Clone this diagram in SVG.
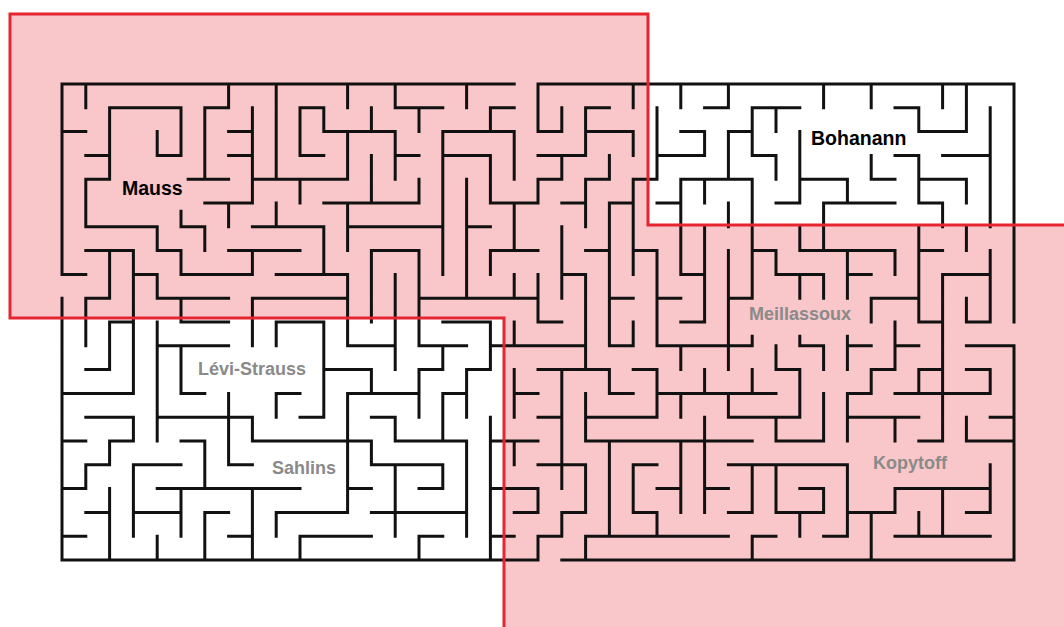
<svg xmlns="http://www.w3.org/2000/svg" width="1064" height="627" viewBox="0 0 1064 627">
<style>
.wall{fill:none;stroke:#111;stroke-width:0.126;stroke-linecap:square}
.lbl{font-family:"Liberation Sans",Arial,sans-serif;font-weight:bold}
.blk{fill:#000;font-size:19.5px}
.gry{fill:#8a8a8a;font-size:18px}
</style>
<rect width="1064" height="627" fill="#fff"/>
<path id="zone-fill" d="M10 14H648V225H1066V629H504V318H10Z" fill="#f9c6c9"/>
<g id="maze" transform="translate(62,84) scale(23.8)">
<path class="wall" d="M0 0H19M20 0H40M0 20H20M21 20H40M0 0V8M0 9V20M40 0V10M40 11V20
M2 1H5M6 1H7M10 1H11M14 1H16M18 1H19M22 1H23M27 1H28M29 1H31M35 1H36
M0 2H1M7 2H8M11 2H14M16 2H19M20 2H21M22 2H24M26 2H27M28 2H29M36 2H38
M1 3H2M4 3H5M7 3H8M10 3H11M14 3H15M16 3H18M20 3H22M25 3H27M29 3H30M35 3H36M37 3H39
M1 4H2M5.3 4H7M8 4H12M20 4H21M22 4H23M24 4H25M26 4H29M31 4H33M34 4H35M36 4H38
M6 5H8M11 5H15M18 5H20M21 5H22M23 5H24M25 5H26M30 5H31M32 5H35M36 5H37
M1 6H4M5 6H6M8 6H11M12 6H16M17 6H18
M1 7H3M4 7H5M7 7H10M13 7H15M18 7H20M22 7H23M24 7H25M29 7H30M31 7H35M36 7H37
M0 8H1M3 8H4M5 8H8M9 8H12M21 8H22M26 8H27M30 8H32M33 8H34M37 8H39
M1 9H2M4 9H7M8 9H12M15 9H20M23 9H24M25 9H26M28 9H29M34 9H36
M2 10H3M5 10H7M9 10H11M16 10H18M20 10H21M26 10H27M36 10H37M38 10H39
M4 11H7M12 11H14M15 11H17M18 11H22M23 11H24M25 11H29M31 11H32M33 11H34M35 11H36M38 11H40
M1 12H2M11 12H13M15 12H16M17 12H18M20 12H23M24 12H25M30 12H31M34 12H35M36 12H37M38 12H39
M0 13H3M5 13H6M9 13H10M12 13H15M16 13H17M19 13H20M23 13H24M25 13H30M33 13H34M35 13H39
M1 14H3M4 14H8M10 14H11M13 14H14M20 14H21M22 14H25M28 14H31M33 14H36M39 14H40
M0 15H1M2 15H3M5 15H6M8 15H13M14 15H17M18 15H20M22 15H29M30 15H32M36 15H37M38 15H40
M1 16H2M3 16H5M7 16H8M13 16H16M20 16H22M24 16H25M28 16H33
M0 17H1M4 17H10M12 17H13M15 17H16M18 17H20M25 17H26M27 17H28M31 17H32M35 17H39
M1 18H2M3 18H5M6 18H7M9 18H12M13 18H17M19 18H20M21 18H22M24 18H25M28 18H29M30 18H32M33 18H35M38 18H39
M0 19H1M7 19H8M10 19H13M15 19H16M18 19H19M20 19H21M22 19H28M29 19H30M32 19H33M35 19H39
M1 0V1M1 4V6M1 9V11M1 16V17
M2 1V4M2 7V9M2 10V12M2 15V16M2 17V20
M3 7V13M3 14V15M3 16V19
M4 2V3M4 6V7M4 8V9M4 10V15M4 19V20
M5 1V3M5 5.35V6M5 7V8M5 9V10M5 11V13M5 17V19
M6 1V4M6 6V7M6 15V17M6 18V20
M7 0V1M7 5V6M7 13V16
M8 1V5M8 7V8M8 9V11M8 14V15M8 17V20
M9 0V4M9 5V6M9 10V11M9 13V14M9 18V19
M10 1V3M10 4V5M10 19V20
M11 1V2M11 6V8M11 10V14
M12 0V1M12 2V4M12 5V7M12 8V11M12 13V18
M13 1V2M13 3V5M13 7V10M13 12V13M13 15V16
M14 0V1M14 2V4M14 8V12M14 14V15M14 16V19
M15 1V2M15 4V5M15 7V11M15 12V14M15 19V20
M16 2V8M16 11V12M16 13V15M16 16V17
M17 0V1M17 4V9M17 12V14M17 15V19
M18 1V2M18 3V5M18 7V8M18 10V12M18 14V20
M19 2V4M19 5V7M19 8V9M19 10V11M19 12V14M19 15V16
M20 0V2M20 4V5M20 8V10M20 17V18M20 19V20
M21 1V2M21 3V4M21 6V9M21 12V17M21 18V19
M22 1V3M22 4V6M22 8V12M22 13V15M22 16V18M22 19V20
M23 3V4M23 5V11M23 12V13M23 15V19
M24 0V1M24 2V3M24 4V8M24 10V11M24 16V18
M25 1V4M25 7V11M25 12V14M25 18V19
M26 0V1M26 4V8M26 11V12M26 13V14M26 15V18
M27 2V3M27 4V5M27 6V10M27 12V13M27 14V18
M28 0V1M28 2V4M28 5V6M28 7V12M28 13V14
M29 1V3M29 4V9M29 10.6V11M29 12V13M29 16V18M29 19V20
M30 1V2M30 3V4M30 7V8M30 11V12M30 14V15M30 16V18
M31 2V5M31 6V7M31 8V9M31 10.6V11M31 12V14M31 18V19
M32 0V1M32 5V7M32 8V9M32 11V12M32 13V15M32 17V18
M33 4V5M33 7V9M33 10.6V12M33 13V15M33 16V19
M34 0V1M34 3V4M34 9V10M34 12V13M34 18V20
M35 7V8M35 10V12M35 14V15M35 17V18
M36 1V2M36 3V5M36 6V10M36 12V13M36 18V19
M37 0V1M37 5V6M37 8V15M37 17V19
M38 0V2M38 4V5M38 6V7M38 9V10M38 14V15
M39 1V6M39 7V10M39 12V13M39 16V18"/>
</g>
<path id="zone-outline" d="M10 14H648V225H1066V629H504V318H10Z" fill="none" stroke="#e52630" stroke-width="3"/>
<g id="labels" class="lbl">
<text class="blk" x="122" y="195">Mauss</text>
<text class="blk" x="811" y="145">Bohanann</text>
<text class="gry" x="749" y="320">Meillassoux</text>
<text class="gry" x="198" y="375">Lévi-Strauss</text>
<text class="gry" x="272" y="474">Sahlins</text>
<text class="gry" x="873" y="469">Kopytoff</text>
</g>
</svg>
